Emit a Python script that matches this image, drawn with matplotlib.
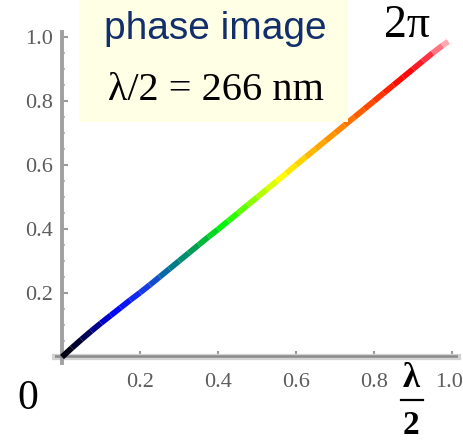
import numpy as np
import matplotlib
matplotlib.use("Agg")
import matplotlib.pyplot as plt
import matplotlib.transforms as mtransforms
from matplotlib.collections import LineCollection
from matplotlib.colors import LinearSegmentedColormap
from matplotlib.patches import Rectangle
from matplotlib.lines import Line2D
from matplotlib.ticker import MultipleLocator, FixedLocator

# ---- data ----
phase_x = [0.000, 0.025, 0.050, 0.075, 0.100, 0.125, 0.150, 0.175, 0.200, 0.225,
           0.250, 0.275, 0.300, 0.325, 0.350, 0.375, 0.400, 0.425, 0.450, 0.475,
           0.500, 0.525, 0.550, 0.575, 0.600, 0.625, 0.650, 0.675, 0.700, 0.725,
           0.750, 0.775, 0.800, 0.825, 0.850, 0.875, 0.900, 0.925, 0.950, 0.975, 0.990]
phase_y = [0.000, 0.028, 0.055, 0.081, 0.106, 0.130, 0.154, 0.178, 0.201, 0.225,
           0.250, 0.275, 0.300, 0.325, 0.350, 0.375, 0.399, 0.424, 0.449, 0.474,
           0.499, 0.524, 0.549, 0.574, 0.600, 0.625, 0.650, 0.675, 0.700, 0.725,
           0.750, 0.775, 0.800, 0.825, 0.850, 0.875, 0.900, 0.925, 0.950, 0.973, 0.986]
major_ticks = [0.2, 0.4, 0.6, 0.8, 1.0]
tick_labels = ["0.2", "0.4", "0.6", "0.8", "1.0"]
color_stops = [(0.00, "#000000"), (0.06, "#000050"), (0.13, "#0000ff"),
               (0.22, "#1840e0"), (0.28, "#007890"), (0.34, "#00a050"),
               (0.42, "#00ff00"), (0.48, "#80ff00"), (0.56, "#ffff00"),
               (0.65, "#ffb000"), (0.72, "#ff8000"), (0.80, "#ff4000"),
               (0.88, "#ff0000"), (0.94, "#ff3040"), (1.00, "#ffd0d8")]
title_text = "phase image"
subtitle_text = "λ/2 = 266 nm"

W, H = 464, 443
fig = plt.figure(figsize=(W / 100, H / 100), dpi=100)
fig.patch.set_facecolor("white")

def fx(px):
    return px / W

def fy(py):
    return 1 - py / H

ax = fig.add_axes([0.1185, 0.1797, 0.8685, 0.7476])
ax.set_facecolor("none")
ax.set_xlim(-0.018, 1.015)
ax.set_ylim(-0.02, 1.015)

for s in ["top", "right"]:
    ax.spines[s].set_visible(False)
ax.spines["left"].set_position(("data", 0))
ax.spines["bottom"].set_position(("data", 0))
ax.spines["left"].set_color("#a0a0a0")
ax.spines["left"].set_linewidth(2.8)
ax.spines["bottom"].set_color("#d2d2d2")
ax.spines["bottom"].set_linewidth(4.5)
ax.spines["bottom"].set_zorder(2.0)
ax.axhline(0.004, color="#8a8a8a", lw=1.8, zorder=2.6)

ax.xaxis.set_major_locator(FixedLocator(major_ticks))
ax.yaxis.set_major_locator(FixedLocator(major_ticks))
ax.set_xticklabels(tick_labels)
ax.set_yticklabels(tick_labels)
ax.xaxis.set_minor_locator(MultipleLocator(0.05))
ax.yaxis.set_minor_locator(MultipleLocator(0.05))
ax.tick_params(which="major", direction="in", length=4, width=1.5, colors="#999999",
               labelcolor="#5c5c5c", labelsize=16)
ax.tick_params(which="minor", direction="in", length=2.5, width=1.2, colors="#aaaaaa")
ax.tick_params(axis="x", which="major", pad=11.5)
ax.tick_params(axis="y", which="major", pad=6.5)
for lab in ax.get_xticklabels() + ax.get_yticklabels():
    lab.set_fontfamily("Liberation Serif")
last = ax.get_xticklabels()[-1]
last.set_transform(last.get_transform() +
                   mtransforms.ScaledTranslation(-2.5 / 72, 0, fig.dpi_scale_trans))

# coloured line
cmap = LinearSegmentedColormap.from_list("phase", color_stops)
pts = np.column_stack([phase_x, phase_y])
segs = np.stack([pts[:-1], pts[1:]], axis=1)
mids = (np.array(phase_x[:-1]) + np.array(phase_x[1:])) / 2
lc = LineCollection(segs, colors=cmap(mids), linewidths=4.2, capstyle="butt", zorder=3)
ax.add_collection(lc)

# yellow box
box = Rectangle((fx(79), fy(122)), fx(348) - fx(79), fy(0) - fy(122),
                transform=fig.transFigure, facecolor="#ffffe6", edgecolor="none", zorder=1)
fig.patches.append(box)

fig.text(fx(215), fy(29), title_text, ha="center", va="center", fontsize=28,
         family="Liberation Sans", color="#122f6c", zorder=3)
fig.text(fx(216), fy(100), subtitle_text, ha="center", va="baseline", fontsize=29,
         family="Liberation Serif", color="black", zorder=3)
fig.text(fx(384), fy(37), "2π", ha="left", va="baseline", fontsize=33,
         family="Liberation Serif", color="black", zorder=3)
fig.text(fx(28), fy(409), "0", ha="center", va="baseline", fontsize=30,
         family="Liberation Serif", color="black", zorder=3)
fig.text(fx(411), fy(387), "λ", ha="center", va="baseline", fontsize=25,
         family="Liberation Serif", weight="bold", color="black", zorder=3)
fig.text(fx(411), fy(434), "2", ha="center", va="baseline", fontsize=24,
         family="Liberation Serif", weight="bold", color="black", zorder=3)
fig.lines.append(Line2D([fx(401), fx(423)], [fy(400), fy(400)], transform=fig.transFigure,
                        color="black", lw=1.6))

fig.savefig("out.png", dpi=100)
